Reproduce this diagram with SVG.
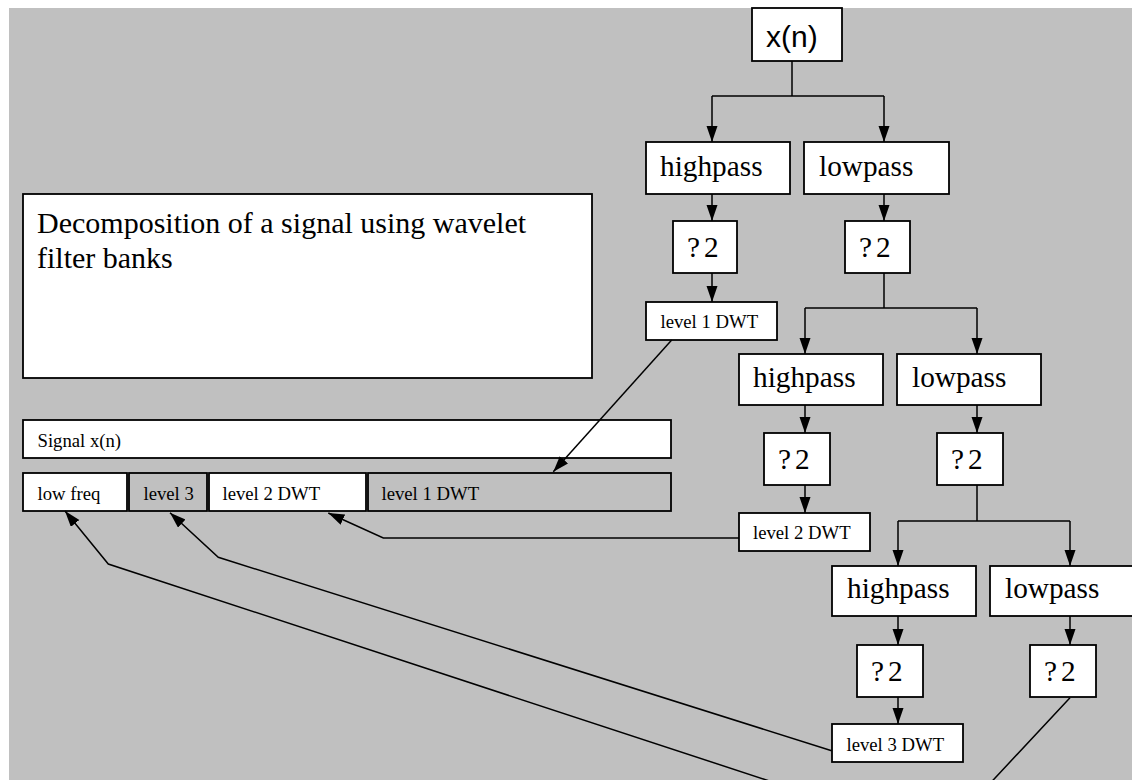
<svg xmlns="http://www.w3.org/2000/svg" width="1132" height="780" viewBox="0 0 1132 780">
<defs>
<marker id="ah" markerUnits="userSpaceOnUse" markerWidth="17" markerHeight="12" refX="16" refY="5.5" orient="auto">
<path d="M0,0 L16,5.5 L0,11 z" fill="#000"/>
</marker>
<style>
.box{fill:#fff;stroke:#000;stroke-width:1.8}
.gbox{fill:#c0c0c0;stroke:#000;stroke-width:1.8}
.big{font-family:"Liberation Serif","Times New Roman",serif;font-size:29.3px;fill:#000}
.ttl{font-family:"Liberation Serif","Times New Roman",serif;font-size:30px;fill:#000}
.sm{font-family:"Liberation Serif","Times New Roman",serif;font-size:18.7px;fill:#000}
.sans{font-family:"Liberation Sans",Arial,sans-serif;font-size:30px;fill:#000}
.ln{fill:none;stroke:#000;stroke-width:1.5}
.ar{fill:none;stroke:#000;stroke-width:1.5;marker-end:url(#ah)}
</style>
</defs>
<rect x="0" y="0" width="1132" height="780" fill="#fff"/>
<rect x="9" y="8" width="1123" height="772" fill="#c0c0c0"/>

<g id="xn"><rect class="box" x="752" y="8" width="90" height="53"/><text class="sans" x="766" y="47">x(n)</text></g>

<g id="hp1"><rect class="box" x="646" y="142" width="144" height="52"/><text class="big" x="660" y="176">highpass</text></g>
<g id="lp1"><rect class="box" x="804" y="142" width="145" height="52"/><text class="big" x="819" y="176">lowpass</text></g>
<g id="ds1h"><rect class="box" x="673" y="221" width="64" height="52"/><text class="big" y="257"><tspan x="687">?</tspan><tspan x="704">2</tspan></text></g>
<g id="ds1l"><rect class="box" x="845" y="221" width="65" height="52"/><text class="big" y="257"><tspan x="859">?</tspan><tspan x="876">2</tspan></text></g>
<g id="dwt1"><rect class="box" x="646" y="302" width="131" height="38"/><text class="sm" x="660.5" y="328">level 1 DWT</text></g>

<g id="hp2"><rect class="box" x="739" y="354" width="144" height="51"/><text class="big" x="753" y="387">highpass</text></g>
<g id="lp2"><rect class="box" x="897" y="354" width="144" height="51"/><text class="big" x="912" y="387">lowpass</text></g>
<g id="ds2h"><rect class="box" x="764" y="433" width="66" height="52"/><text class="big" y="469"><tspan x="778">?</tspan><tspan x="795">2</tspan></text></g>
<g id="ds2l"><rect class="box" x="937" y="433" width="66" height="52"/><text class="big" y="469"><tspan x="951">?</tspan><tspan x="968">2</tspan></text></g>
<g id="dwt2"><rect class="box" x="739" y="513" width="131" height="38"/><text class="sm" x="753" y="539">level 2 DWT</text></g>

<g id="hp3"><rect class="box" x="832" y="566" width="144" height="50"/><text class="big" x="847" y="598">highpass</text></g>
<g id="lp3"><rect class="box" x="990" y="566" width="145" height="50"/><text class="big" x="1005" y="598">lowpass</text></g>
<g id="ds3h"><rect class="box" x="857" y="645" width="66" height="52"/><text class="big" y="681"><tspan x="871">?</tspan><tspan x="888">2</tspan></text></g>
<g id="ds3l"><rect class="box" x="1030" y="645" width="66" height="52"/><text class="big" y="681"><tspan x="1044">?</tspan><tspan x="1061">2</tspan></text></g>
<g id="dwt3"><rect class="box" x="832" y="724" width="131" height="38"/><text class="sm" x="846.5" y="750.5">level 3 DWT</text></g>

<g id="title"><rect class="box" x="23" y="194" width="569" height="184"/>
<text class="ttl" x="37" y="233">Decomposition of a signal using wavelet</text>
<text class="ttl" x="37" y="268">filter banks</text></g>

<g id="signal"><rect class="box" x="23" y="420" width="648" height="38"/><text class="sm" x="37.5" y="447">Signal x(n)</text></g>
<g id="lowfreq"><rect class="box" x="23" y="473" width="104" height="38"/><text class="sm" x="37.5" y="500">low freq</text></g>
<g id="lvl3"><rect class="gbox" x="129" y="473" width="78" height="38"/><text class="sm" x="143.5" y="500">level 3</text></g>
<g id="lvl2"><rect class="box" x="209" y="473" width="157" height="38"/><text class="sm" x="222.5" y="500">level 2 DWT</text></g>
<g id="lvl1"><rect class="gbox" x="368" y="473" width="303" height="38"/><text class="sm" x="381.5" y="500">level 1 DWT</text></g>

<g id="connectors">
<polyline class="ln" points="792,61 792,96"/>
<polyline class="ln" points="712,96 884,96"/>
<line class="ar" x1="712" y1="96" x2="712" y2="142"/>
<line class="ar" x1="884" y1="96" x2="884" y2="142"/>
<line class="ar" x1="712" y1="194" x2="712" y2="221"/>
<line class="ar" x1="884" y1="194" x2="884" y2="221"/>
<line class="ar" x1="712" y1="273" x2="712" y2="302"/>
<polyline class="ln" points="884,273 884,308"/>
<polyline class="ln" points="805,308 977,308"/>
<line class="ar" x1="805" y1="308" x2="805" y2="354"/>
<line class="ar" x1="977" y1="308" x2="977" y2="354"/>
<line class="ar" x1="805" y1="405" x2="805" y2="433"/>
<line class="ar" x1="977" y1="405" x2="977" y2="433"/>
<line class="ar" x1="805" y1="485" x2="805" y2="513"/>
<polyline class="ln" points="977,485 977,521"/>
<polyline class="ln" points="898,521 1070,521"/>
<line class="ar" x1="898" y1="521" x2="898" y2="566"/>
<line class="ar" x1="1070" y1="521" x2="1070" y2="566"/>
<line class="ar" x1="898" y1="616" x2="898" y2="645"/>
<line class="ar" x1="1070" y1="616" x2="1070" y2="645"/>
<line class="ar" x1="898" y1="697" x2="898" y2="724"/>
<line class="ar" x1="671.7" y1="340" x2="553.3" y2="471.7"/>
<polyline class="ar" points="739,538 383.3,538 328.3,513"/>
<polyline class="ar" points="831.7,750.7 218.3,557.3 170,512.7"/>
<polyline class="ar" points="1070,697.7 940,837 108.3,564 65,511"/>
</g>
</svg>
